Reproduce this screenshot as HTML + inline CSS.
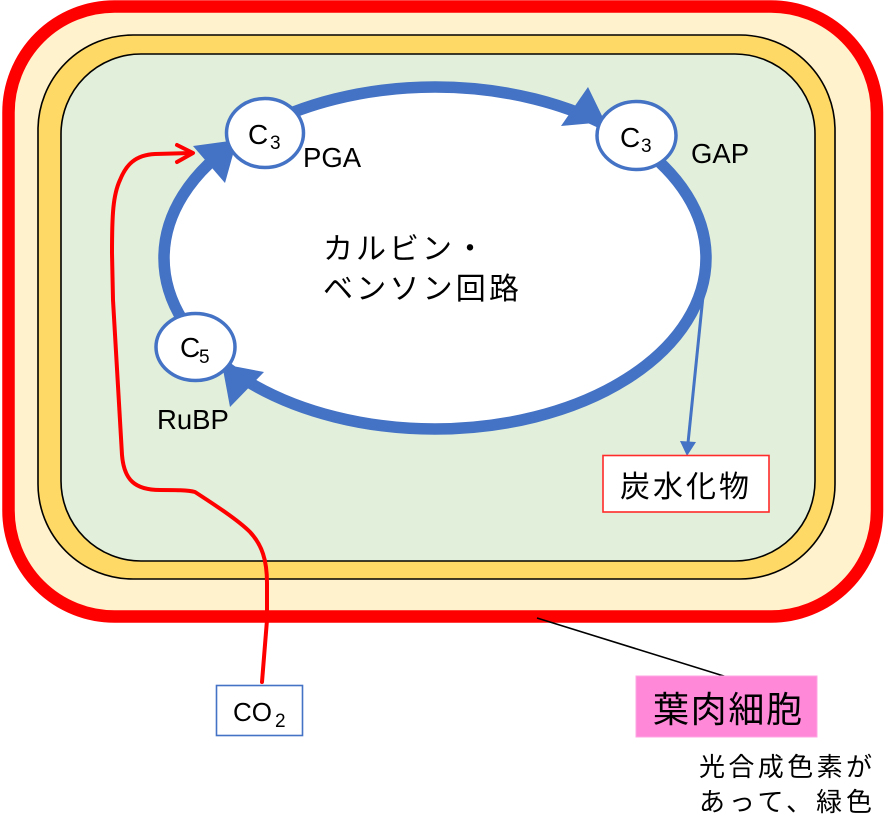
<!DOCTYPE html>
<html>
<head>
<meta charset="utf-8">
<style>
  html, body { margin: 0; padding: 0; background: #ffffff; }
  svg { display: block; }
  .lat { font-family: "Liberation Sans", Arial, sans-serif; fill: #000; }
  .jp { font-family: "Liberation Sans", "Noto Sans CJK JP", sans-serif; fill: #000; }
</style>
</head>
<body>
<svg width="889" height="833" viewBox="0 0 889 833" xmlns="http://www.w3.org/2000/svg">
  <!-- cell layers -->
  <rect x="8.5" y="6.5" width="868.5" height="610" rx="106" ry="106" fill="#FFF2CC" stroke="#FF0000" stroke-width="12.5"/>
  <rect x="38" y="35" width="797" height="544" rx="95" ry="95" fill="#FFD966" stroke="#000" stroke-width="1.6"/>
  <rect x="61" y="54" width="754" height="507" rx="80" ry="80" fill="#E2EFDA" stroke="#000" stroke-width="1.6"/>

  <!-- Calvin cycle ellipse -->
  <ellipse cx="435" cy="258" rx="271" ry="171" fill="#ffffff" stroke="#4472C4" stroke-width="11.5"/>

  <!-- arrowheads on cycle -->
  <polygon points="193,146 225,183 237,140" fill="#4472C4"/>
  <polygon points="588,87 561,126 605,122" fill="#4472C4"/>
  <polygon points="264,372 230,407 222,364" fill="#4472C4"/>

  <!-- carbohydrate arrow -->
  <line x1="703" y1="296" x2="688" y2="443" stroke="#4472C4" stroke-width="3"/>
  <polygon points="680,441 696,442 687,456" fill="#4472C4"/>

  <!-- red CO2 path -->
  <path d="M262,682 L267,620 L267,583 C267,560 262,545 250,532 C238,520 215,505 195,492 C188,490 175,490 160,490 C135,490 124,480 122,455 L113,300 L112,253 C112,215 113,195 120,180 C126,165 135,155 155,154 L192,153"
        fill="none" stroke="#FF0000" stroke-width="4" stroke-linejoin="round" stroke-linecap="round"/>
  <path d="M177,145 L193,153 L177,162" fill="none" stroke="#FF0000" stroke-width="4" stroke-linecap="round" stroke-linejoin="round"/>

  <!-- nodes -->
  <ellipse cx="265" cy="133" rx="38.5" ry="34.5" fill="#ffffff" stroke="#4472C4" stroke-width="3.5"/>
  <ellipse cx="636.5" cy="135.5" rx="39.5" ry="34" fill="#ffffff" stroke="#4472C4" stroke-width="3.5"/>
  <ellipse cx="195.5" cy="347" rx="39.5" ry="33.5" fill="#ffffff" stroke="#4472C4" stroke-width="3.5"/>

  <!-- node text -->
  <text class="lat" x="248" y="144" font-size="28">C</text>
  <text class="lat" x="270" y="149" font-size="19">3</text>
  <text class="lat" x="620" y="147" font-size="28">C</text>
  <text class="lat" x="641" y="152" font-size="19">3</text>
  <text class="lat" x="180" y="357" font-size="28">C</text>
  <text class="lat" x="199" y="363" font-size="19">5</text>

  <!-- labels -->
  <text class="lat" x="303" y="167" font-size="27.5">PGA</text>
  <text class="lat" x="691" y="163" font-size="27.5">GAP</text>
  <text class="lat" x="157" y="429" font-size="27.5">RuBP</text>

  <!-- cycle title -->
  <text class="jp" x="323" y="259" font-size="30" textLength="162" lengthAdjust="spacing">カルビン・</text>
  <text class="jp" x="323" y="299" font-size="30" textLength="196" lengthAdjust="spacing">ベンソン回路</text>

  <!-- carbohydrate box -->
  <rect x="603" y="455.5" width="166" height="56.5" fill="#ffffff" stroke="#FF2A2A" stroke-width="1.6"/>
  <text class="jp" x="620" y="497" font-size="30" textLength="129" lengthAdjust="spacing">炭水化物</text>

  <!-- CO2 box -->
  <rect x="216.5" y="685.5" width="86" height="50" fill="#ffffff" stroke="#4472C4" stroke-width="1.6"/>
  <text class="lat" x="233" y="721" font-size="26">CO</text>
  <text class="lat" x="275" y="727" font-size="19">2</text>

  <!-- leader line -->
  <line x1="537" y1="618" x2="727" y2="677" stroke="#000" stroke-width="1.6"/>

  <!-- mesophyll label -->
  <rect x="636" y="676" width="181" height="61" fill="#FF88D9" stroke="#FFA6E3" stroke-width="1"/>
  <text class="jp" x="653" y="722" font-size="36" textLength="149" lengthAdjust="spacing">葉肉細胞</text>

  <!-- note -->
  <text class="jp" x="699" y="776" font-size="26" textLength="173" lengthAdjust="spacing">光合成色素が</text>
  <text class="jp" x="699" y="811" font-size="26" textLength="173" lengthAdjust="spacing">あって、緑色</text>
</svg>
</body>
</html>
